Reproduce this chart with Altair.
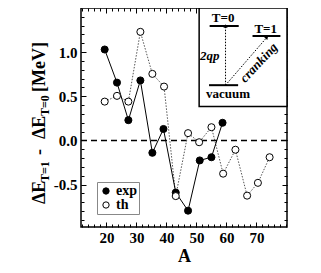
import altair as alt
import pandas as pd

# ---------------- data ----------------
A_exp = [19.4, 23.5, 27.3, 31.3, 35.3, 39.0, 43.1, 47.2, 51.1, 55.0, 58.7]
dE_exp = [1.03, 0.655, 0.23, 0.68, -0.14, 0.13, -0.59, -0.795, -0.226, -0.19, 0.20]
A_th = [19.4, 23.5, 27.3, 31.3, 35.3, 39.2, 43.1, 47.2, 50.9, 55.0, 58.9, 63.0, 66.9, 70.5, 74.4]
dE_th = [0.44, 0.505, 0.44, 1.23, 0.754, 0.61, -0.63, 0.083, -0.02, 0.15, -0.376, -0.105, -0.625, -0.48, -0.19]
series_names = ["exp", "th"]

x_ticks_major = [20, 30, 40, 50, 60, 70]
x_ticks_minor = list(range(12, 81, 2))
y_ticks_major = [-0.5, 0.0, 0.5, 1.0]
y_ticks_minor = [-0.9, -0.8, -0.7, -0.6, -0.5, -0.4, -0.3, -0.2, -0.1, 0.0, 0.1, 0.2,
                 0.3, 0.4, 0.5, 0.6, 0.7, 0.8, 0.9, 1.0, 1.1, 1.2, 1.3, 1.4]

# inset schematic (level scheme), in plot units
lev_label = ["T=0", "T=1", "vacuum"]
lev_x0 = [54.4, 68.7, 54.2]
lev_x1 = [64.1, 78.0, 63.9]
lev_y = [1.296, 1.183, 0.626]
lbl_x = [58.9, 73.1, 60.5]
lbl_y = [1.385, 1.262, 0.522]
arrow_x0 = [59.7, 59.7]
arrow_y0 = [0.626, 0.626]
arrow_x1 = [59.7, 73.5]
arrow_y1 = [1.296, 1.168]
arrow_angle = [0, 41]
arrow_name = ["2qp", "cranking"]
arrow_lbl_x = [54.4, 70.8]
arrow_lbl_y = [0.957, 0.88]
arrow_lbl_angle = [0, 313]
inset_x = [50.9, 80.2]
inset_y = [0.384, 1.5]

# y-axis title pieces (with subscripts)
title_text = ["\u0394E", "T=1", "-", "\u0394E", "T=0", "[MeV]"]
title_sub = [False, True, False, False, True, False]
title_px = [-36, -32, -36, -36, -32, -36]
title_py = [196, 174, 147, 131, 108, 84]

FONT = "Liberation Serif"

df = pd.concat([
    pd.DataFrame({"A": A_exp, "dE": dE_exp, "series": series_names[0]}),
    pd.DataFrame({"A": A_th, "dE": dE_th, "series": series_names[1]}),
], ignore_index=True)

xs = alt.Scale(domain=[11.5, 80.2], nice=False, zero=False)
ys = alt.Scale(domain=[-0.98, 1.5], nice=False, zero=False)

ax_kw = dict(domain=False, grid=False, tickColor="black", tickWidth=1)
lab_kw = dict(labelFont=FONT, labelFontSize=15, labelFontWeight="bold", labelColor="black")

xb_major = alt.Axis(orient="bottom", values=x_ticks_major, offset=-5, tickSize=5, labelPadding=3,
                    format="d", title="A", titleFont=FONT, titleFontSize=18, titleFontWeight="bold",
                    titleColor="black", titlePadding=2, **lab_kw, **ax_kw)
yl_major = alt.Axis(orient="left", values=y_ticks_major, offset=-5, tickSize=5, labelPadding=4,
                    labelExpr="datum.value < 0 ? '-' + format(-datum.value, '.1f') : format(datum.value, '.1f')",
                    title=None, **lab_kw, **ax_kw)
xb_minor = alt.Axis(orient="bottom", values=x_ticks_minor, offset=-3, tickSize=3, labels=False, title=None, **ax_kw)
yl_minor = alt.Axis(orient="left", values=y_ticks_minor, offset=-3, tickSize=3, labels=False, title=None, **ax_kw)
xt_major = alt.Axis(orient="top", values=x_ticks_major, offset=-5, tickSize=5, labels=False, title=None, **ax_kw)
yr_major = alt.Axis(orient="right", values=y_ticks_major, offset=-5, tickSize=5, labels=False, title=None, **ax_kw)
xt_minor = alt.Axis(orient="top", values=x_ticks_minor, offset=-3, tickSize=3, labels=False, title=None, **ax_kw)
yr_minor = alt.Axis(orient="right", values=y_ticks_minor, offset=-3, tickSize=3, labels=False, title=None, **ax_kw)

def X(field, axis=None):
    return alt.X(field, type="quantitative", scale=xs, axis=axis)

def Y(field, axis=None):
    return alt.Y(field, type="quantitative", scale=ys, axis=axis)

base = alt.Chart(df)

zero = alt.Chart(pd.DataFrame({"z": [0.0]})).mark_rule(
    color="black", strokeWidth=1.5, strokeDash=[6, 4]).encode(y=Y("z"))

line_th = base.transform_filter(alt.datum.series == "th").mark_line(
    color="#555", strokeWidth=1, strokeDash=[1.5, 1.5]).encode(x=X("A"), y=Y("dE"))
line_exp = base.transform_filter(alt.datum.series == "exp").mark_line(
    color="black", strokeWidth=1).encode(x=X("A"), y=Y("dE"))

points = base.mark_point(filled=True, shape="circle", size=50, stroke="black", strokeWidth=1, opacity=1).encode(
    x=X("A", xb_major), y=Y("dE", yl_major),
    fill=alt.Fill("series:N", scale=alt.Scale(domain=series_names, range=["black", "white"]),
                  legend=alt.Legend(orient="none", legendX=16, legendY=174, title=None,
                                    strokeColor="#888", padding=2, fillColor="white",
                                    labelFont=FONT, labelFontSize=14, labelFontWeight="bold",
                                    labelColor="black", symbolType="circle", symbolSize=40,
                                    symbolStrokeColor="black", symbolStrokeWidth=1,
                                    rowPadding=0, labelOffset=3)),
)

tick1 = base.mark_point(opacity=0).encode(x=X("A", xb_minor), y=Y("dE", yl_minor))
tick2 = base.mark_point(opacity=0).encode(x=X("A", xt_major), y=Y("dE", yr_major))
tick3 = base.mark_point(opacity=0).encode(x=X("A", xt_minor), y=Y("dE", yr_minor))

# inset
inset_df = pd.DataFrame({"x0": [inset_x[0]], "x1": [inset_x[1]], "y0": [inset_y[0]], "y1": [inset_y[1]]})
inset_box = alt.Chart(inset_df).mark_rect(fill="white", stroke="black", strokeWidth=1.5).encode(
    x=X("x0"), x2="x1", y=Y("y0"), y2="y1")

lev_df = pd.DataFrame({"label": lev_label, "x0": lev_x0, "x1": lev_x1, "y": lev_y, "lx": lbl_x, "ly": lbl_y})
levels = alt.Chart(lev_df).mark_rule(color="black", strokeWidth=2).encode(x=X("x0"), x2="x1", y=Y("y"))
lev_text = alt.Chart(lev_df).mark_text(font=FONT, fontSize=13, fontWeight="bold", color="black",
                                        baseline="middle", align="center").encode(
    x=X("lx"), y=Y("ly"), text="label:N")

arr_df = pd.DataFrame({"name": arrow_name, "x0": arrow_x0, "y0": arrow_y0, "x1": arrow_x1, "y1": arrow_y1,
                       "ang": arrow_angle, "lx": arrow_lbl_x, "ly": arrow_lbl_y, "lang": arrow_lbl_angle})
arrows = alt.Chart(arr_df).mark_rule(color="black", strokeWidth=1, strokeDash=[1.5, 1.5]).encode(
    x=X("x0"), x2="x1", y=Y("y0"), y2="y1")
heads = alt.Chart(arr_df).mark_point(shape="triangle-up", filled=True, color="black", size=18, opacity=1).encode(
    x=X("x1"), y=Y("y1"), angle=alt.Angle("ang:Q", scale=None))
arr_text = alt.Chart(arr_df).mark_text(font=FONT, fontSize=13, fontWeight="bold", fontStyle="italic",
                                       color="black", baseline="middle", align="center").encode(
    x=X("lx"), y=Y("ly"), text="name:N", angle=alt.Angle("lang:Q", scale=None))

tdf = pd.DataFrame({"t": title_text, "sub": title_sub, "px": title_px, "py": title_py})
t_main = alt.Chart(tdf).transform_filter("!datum.sub").mark_text(
    angle=270, align="left", baseline="alphabetic", font=FONT, fontSize=18, fontWeight="bold", color="black").encode(
    x=alt.X("px:Q", scale=None, axis=None), y=alt.Y("py:Q", scale=None, axis=None), text="t:N")
t_sub = alt.Chart(tdf).transform_filter("datum.sub").mark_text(
    angle=270, align="left", baseline="alphabetic", font=FONT, fontSize=12, fontWeight="bold", color="black").encode(
    x=alt.X("px:Q", scale=None, axis=None), y=alt.Y("py:Q", scale=None, axis=None), text="t:N")

chart = alt.layer(
    zero, line_th, line_exp, points, tick1, tick2, tick3,
    inset_box, levels, arrows, heads, lev_text, arr_text, t_main, t_sub,
).resolve_axis(x="independent", y="independent").properties(
    width=206, height=219,
    autosize=alt.AutoSizeParams(type="none"),
    padding={"left": 73, "top": 0, "right": 20, "bottom": 40},
).configure_view(stroke="black", strokeWidth=1.5)

chart.save("out.html", embed_options={"renderer": "svg", "actions": False})
